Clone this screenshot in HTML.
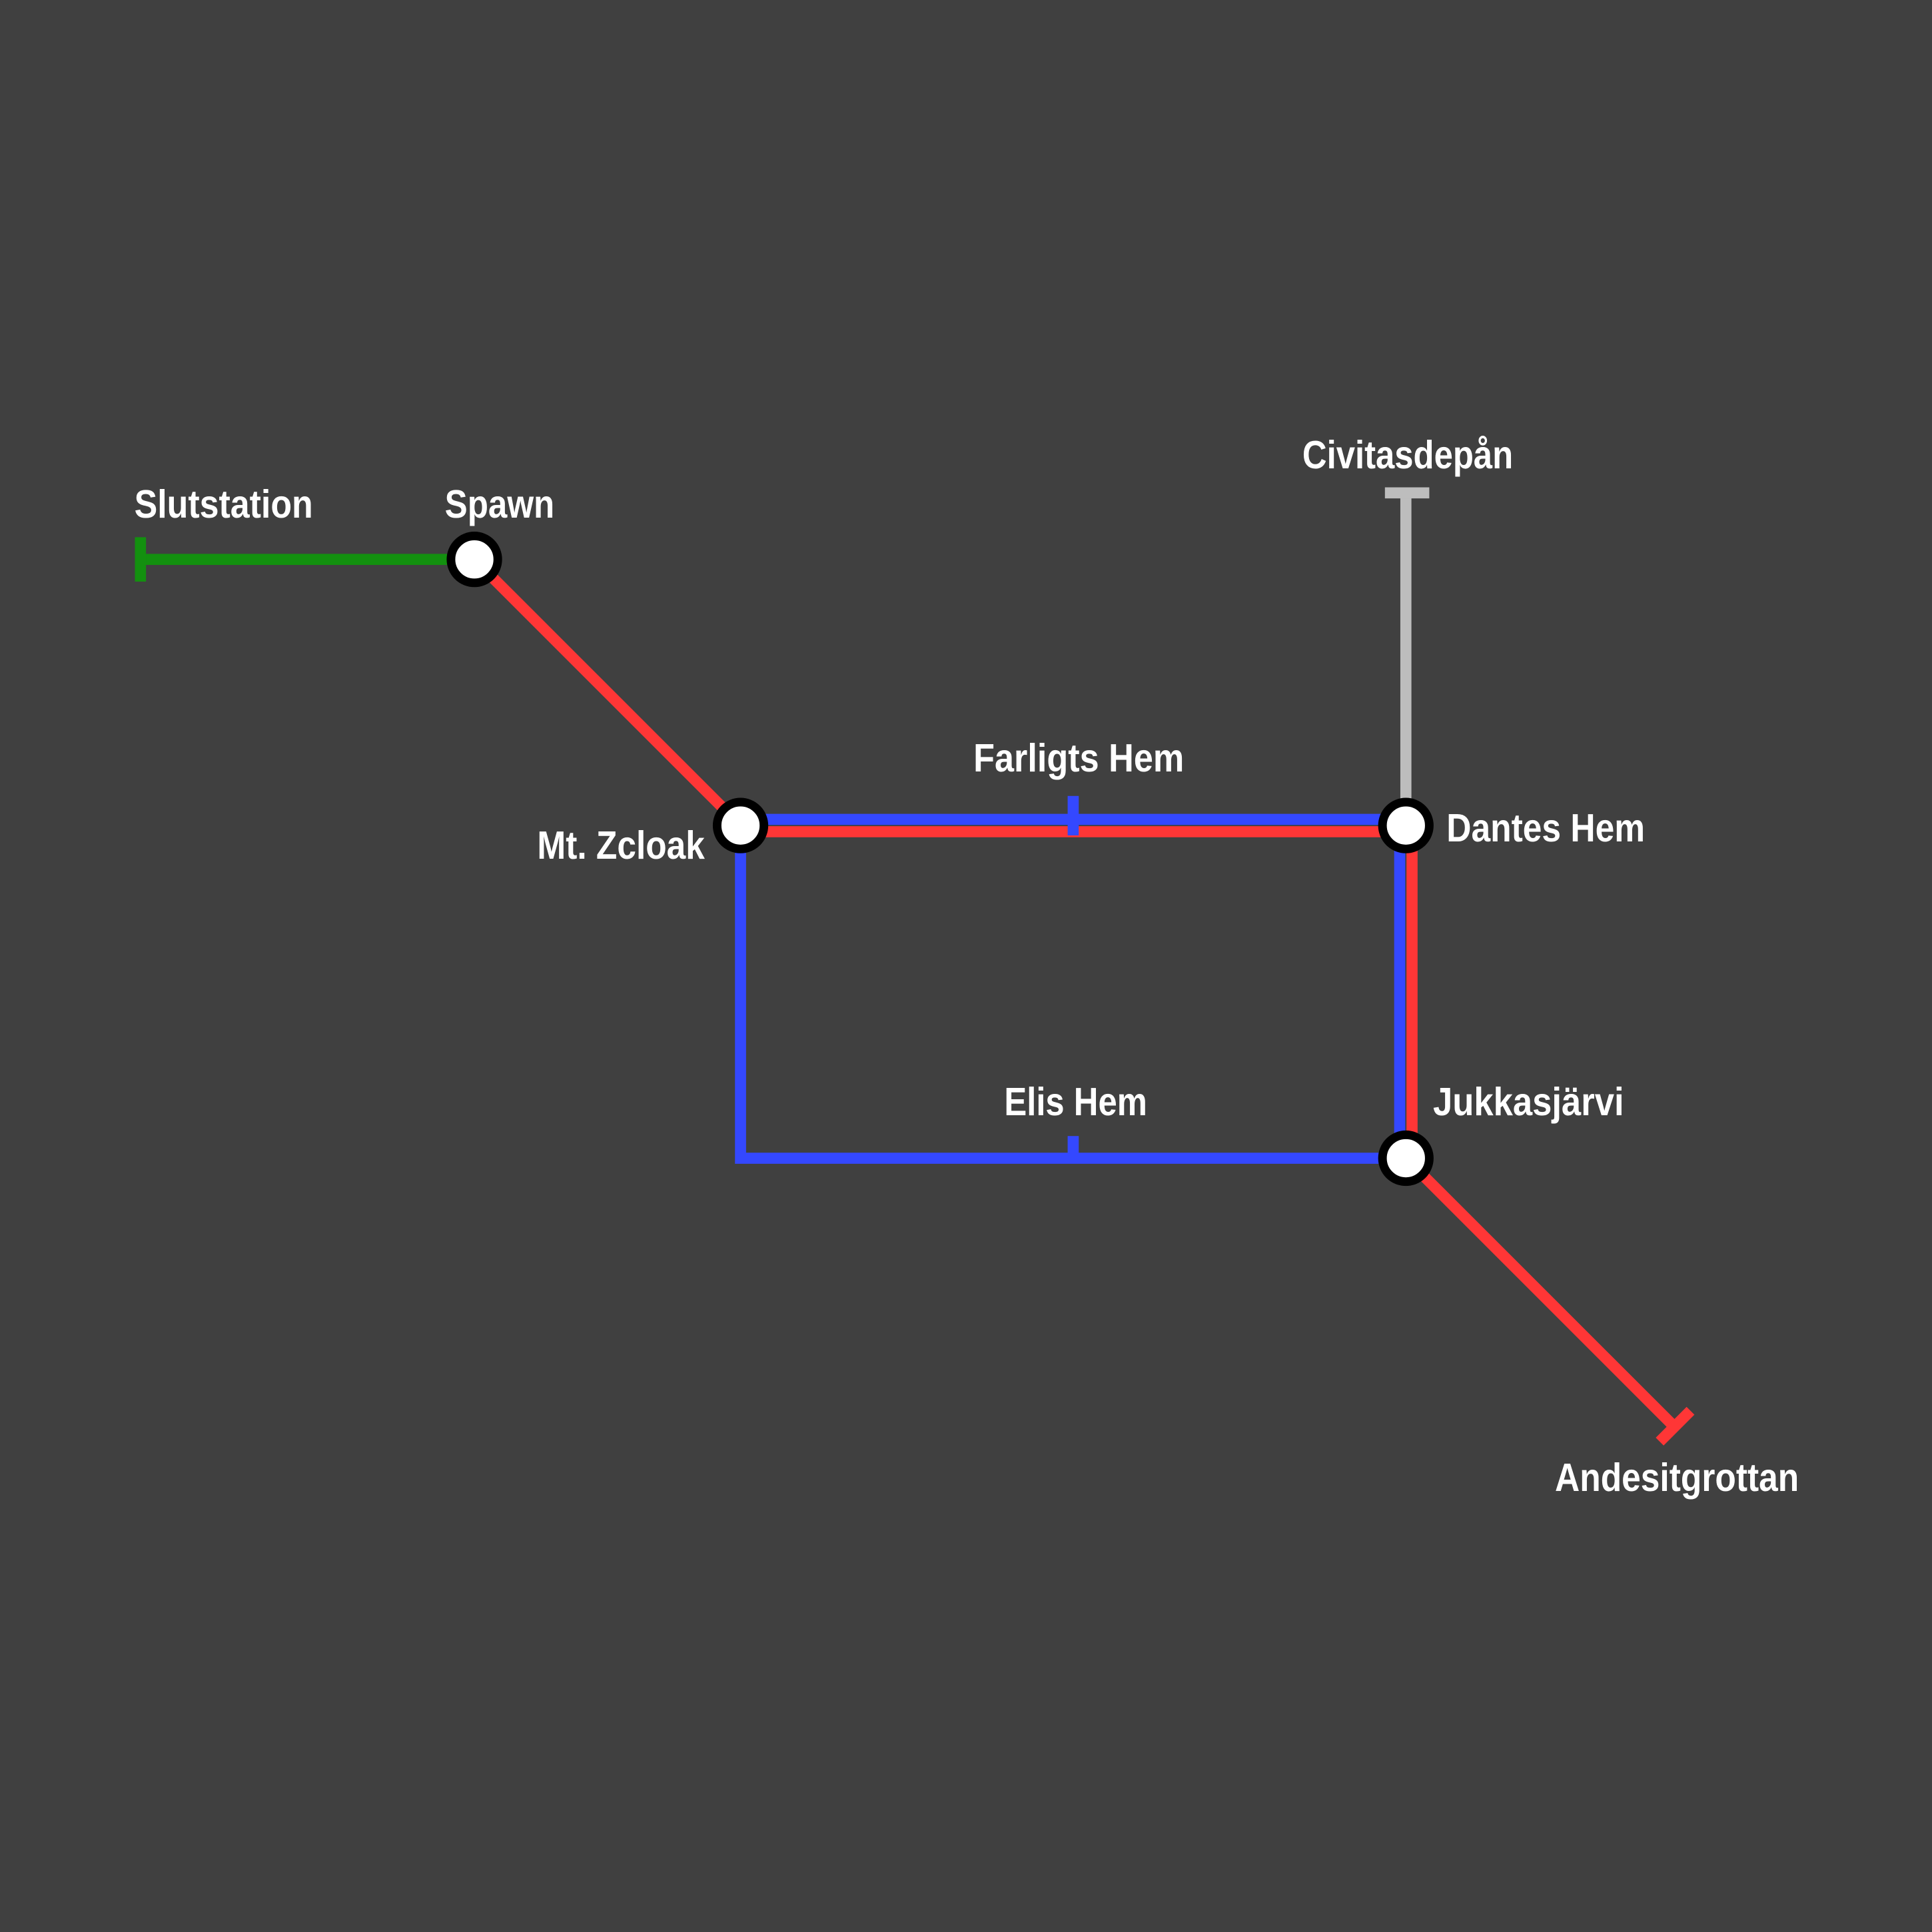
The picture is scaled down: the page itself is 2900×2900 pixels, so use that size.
<!DOCTYPE html>
<html><head><meta charset="utf-8"><style>
html,body{margin:0;padding:0;background:#404040;}
svg{display:block;}
text{font-family:"Liberation Sans Narrow","Liberation Sans",sans-serif;font-weight:bold;fill:#fff;font-size:32px;}
</style></head><body>
<svg width="2900" height="2900" viewBox="0 0 1568 1568" xmlns="http://www.w3.org/2000/svg">
<rect width="1568" height="1568" fill="#404040"/>
<line x1="114" y1="454" x2="385" y2="454" stroke="#13900f" stroke-width="9"/>
<line x1="114" y1="436" x2="114" y2="472" stroke="#13900f" stroke-width="9"/>
<line x1="1141" y1="400" x2="1141" y2="670" stroke="#bdbdbd" stroke-width="9"/>
<line x1="1124" y1="400" x2="1160" y2="400" stroke="#bdbdbd" stroke-width="9"/>
<line x1="385" y1="454" x2="601" y2="670" stroke="#ff3636" stroke-width="9"/>
<line x1="601" y1="675" x2="1141" y2="675" stroke="#ff3636" stroke-width="9"/>
<line x1="1146" y1="670" x2="1146" y2="940" stroke="#ff3636" stroke-width="9"/>
<line x1="1141" y1="940" x2="1360" y2="1159" stroke="#ff3636" stroke-width="9"/>
<line x1="1347" y1="1170" x2="1372" y2="1145" stroke="#ff3636" stroke-width="9"/>
<line x1="601" y1="665" x2="1141" y2="665" stroke="#3448ff" stroke-width="9"/>
<line x1="871" y1="646" x2="871" y2="678" stroke="#3448ff" stroke-width="9"/>
<line x1="1136" y1="670" x2="1136" y2="940" stroke="#3448ff" stroke-width="9"/>
<polyline points="601,670 601,940 1141,940" fill="none" stroke="#3448ff" stroke-width="9"/>
<line x1="871" y1="922" x2="871" y2="940" stroke="#3448ff" stroke-width="9"/>
<g fill="#fff" stroke="#000" stroke-width="7">
<circle cx="385" cy="454" r="19"/>
<circle cx="601" cy="670" r="19"/>
<circle cx="1141" cy="670" r="19"/>
<circle cx="1141" cy="940" r="19"/>
</g>
<text x="109" y="420" textLength="145" lengthAdjust="spacingAndGlyphs">Slutstation</text>
<text x="361" y="420" textLength="89" lengthAdjust="spacingAndGlyphs">Spawn</text>
<text x="1057" y="380" textLength="171" lengthAdjust="spacingAndGlyphs">Civitasdepån</text>
<text x="790" y="626" textLength="171" lengthAdjust="spacingAndGlyphs">Farligts Hem</text>
<text x="436" y="697" textLength="136" lengthAdjust="spacingAndGlyphs">Mt. Zcloak</text>
<text x="1174" y="683" textLength="161" lengthAdjust="spacingAndGlyphs">Dantes Hem</text>
<text x="815" y="905" textLength="116" lengthAdjust="spacingAndGlyphs">Elis Hem</text>
<text x="1163" y="905" textLength="155" lengthAdjust="spacingAndGlyphs">Jukkasjärvi</text>
<text x="1262" y="1210" textLength="198" lengthAdjust="spacingAndGlyphs">Andesitgrottan</text>
</svg>
</body></html>
